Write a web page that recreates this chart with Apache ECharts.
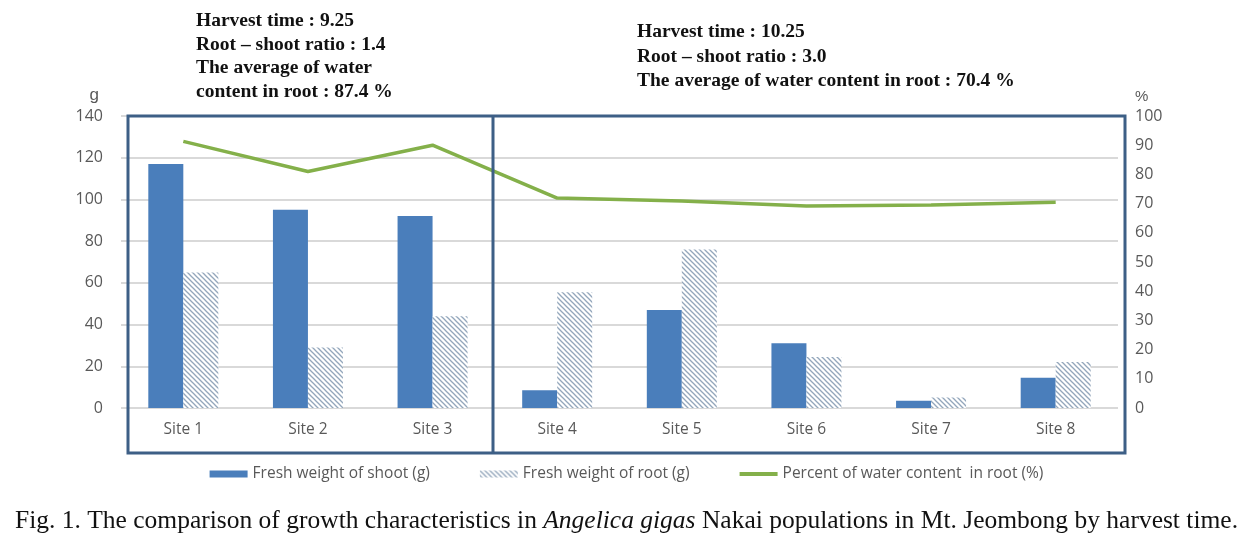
<!DOCTYPE html>
<html>
<head>
<meta charset="utf-8">
<script src="https://cdn.jsdelivr.net/npm/echarts@6/dist/echarts.min.js"></script>
<style>
html,body{margin:0;padding:0;background:#fff;}
#main{width:1253px;height:546px;}
</style>
</head>
<body>
<div id="main"></div>
<script>
var categories = ['Site 1','Site 2','Site 3','Site 4','Site 5','Site 6','Site 7','Site 8'];
var shootWeight = [117, 95, 92, 8.5, 47, 31, 3.5, 14.5];
var rootWeight = [65, 29, 44, 55.5, 76, 24.5, 5, 22];
var waterContent = [91.3, 81, 90, 71.9, 70.9, 69.2, 69.5, 70.5];
var leftTicks = {min: 0, max: 140, interval: 20};
var rightTicks = {min: 0, max: 100, interval: 10};
var seriesNames = ['Fresh weight of shoot (g)', 'Fresh weight of root (g)', 'Percent of water content  in root (%)'];
var noteLeft = ['Harvest time : 9.25', 'Root \u2013 shoot ratio : 1.4', 'The average of water', 'content in root : 87.4 %'];
var noteRight = ['Harvest time : 10.25', 'Root \u2013 shoot ratio : 3.0', 'The average of water content in root : 70.4 %'];
var caption = 'Fig. 1. The comparison of growth characteristics in {i|Angelica gigas} Nakai populations in Mt. Jeombong by harvest time.';

// hatch pattern
var pc = document.createElement('canvas');
pc.width = 5; pc.height = 5;
var ctx = pc.getContext('2d');
ctx.fillStyle = '#ffffff';
ctx.fillRect(0,0,5,5);
ctx.strokeStyle = '#93a6bb';
ctx.lineWidth = 1.3;
[-5,0,5].forEach(function(o){
  ctx.beginPath(); ctx.moveTo(o-1,-1); ctx.lineTo(o+6,6); ctx.stroke();
});

var chart = echarts.init(document.getElementById('main'));
var labelColor = '#595959';
var boxColor = '#3d5f86';
var serifFont = '"Liberation Serif","Times New Roman",serif';
var sansFont = '"Open Sans", sans-serif';

function noteGraphics(lines, x, y0, dy) {
  return lines.map(function(t, i){
    return {type:'text', left: x, top: y0 + i*dy, z: 100,
      style:{text: t, font: 'bold 19.5px ' + serifFont, fill:'#111'}};
  });
}

var graphics = [
  {type:'rect', shape:{x:128, y:116, width:997, height:337}, style:{fill:'none', stroke:boxColor, lineWidth:3}, z:50},
  {type:'line', shape:{x1:493, y1:116, x2:493, y2:453}, style:{stroke:boxColor, lineWidth:3}, z:50}
].concat(noteGraphics(noteLeft, 196, 11, 23.7))
 .concat(noteGraphics(noteRight, 637, 22, 24.5));

chart.setOption({
  animation: false,
  grid: {left: 121, right: 135, top: 116, bottom: 138},
  legend: {
    top: 461, left: 'center',
    itemWidth: 38, itemHeight: 7, itemGap: 50,
    textStyle: {color: labelColor, fontSize: 15.5, fontFamily: sansFont},
    data: [
      {name: seriesNames[0], icon: 'rect'},
      {name: seriesNames[1], icon: 'rect'},
      {name: seriesNames[2], icon: 'path://M0,0H40V4H0Z'}
    ]
  },
  title: {
    text: caption, left: 'center', top: 503,
    textStyle: {fontFamily: serifFont, fontSize: 25.5, fontWeight: 'normal', color: '#111',
      rich: {i: {fontStyle: 'italic', fontFamily: serifFont, fontSize: 25.5, color:'#111'}}}
  },
  xAxis: {
    type: 'category', data: categories,
    axisLine: {show: false}, axisTick: {show: false},
    axisLabel: {color: labelColor, fontSize: 15.5, margin: 14, fontFamily: sansFont}
  },
  yAxis: [
    {type: 'value', min: leftTicks.min, max: leftTicks.max, interval: leftTicks.interval,
     name: 'g', nameLocation: 'end', nameGap: 12,
     nameTextStyle: {color: labelColor, fontSize: 17, align: 'right', padding:[0,22,0,0]},
     axisLabel: {color: labelColor, fontSize: 16, margin: 18, fontFamily: sansFont},
     axisLine: {show: false}, axisTick: {show: false},
     splitLine: {lineStyle: {color: '#d9d9d9', width: 2}}},
    {type: 'value', min: rightTicks.min, max: rightTicks.max, interval: rightTicks.interval,
     position: 'right', name: '%', nameLocation: 'end', nameGap: 12,
     nameTextStyle: {color: labelColor, fontSize: 15, align: 'left', padding:[0,0,0,17]},
     axisLabel: {color: labelColor, fontSize: 16, margin: 17, fontFamily: sansFont},
     axisLine: {show: false}, axisTick: {show: false}, splitLine: {show: false}}
  ],
  series: [
    {name: seriesNames[0], type: 'bar', data: shootWeight, barWidth: 35, barGap: '0%',
     itemStyle: {color: '#4a7ebb'}},
    {name: seriesNames[1], type: 'bar', data: rootWeight, barWidth: 35,
     itemStyle: {color: {image: pc, repeat: 'repeat'}}},
    {name: seriesNames[2], type: 'line', yAxisIndex: 1, data: waterContent, symbol: 'none',
     lineStyle: {color: '#84b04a', width: 3.5}, itemStyle: {color: '#84b04a'}, z: 10}
  ],
  graphic: graphics
});
</script>
</body>
</html>
